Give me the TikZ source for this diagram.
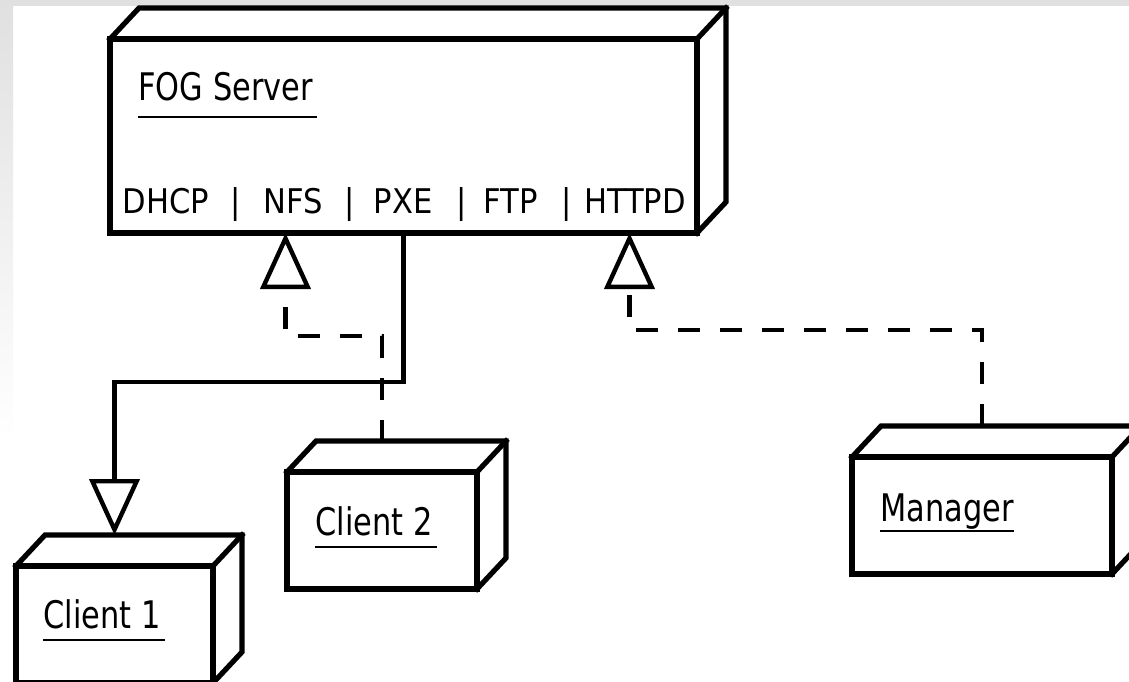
\documentclass[tikz,border=0pt]{standalone}
\usepackage{fontspec}
\setmainfont{DejaVu Sans}
\usepackage{graphicx}
\usetikzlibrary{arrows.meta}

\tikzset{
    box/.style={draw, line width=2.6pt, outer sep=0pt, inner sep=0pt, fill=white},
    boxline/.style={line width=2.6pt, line join=miter, line cap=rect},
    lbl/.style={inner sep=0pt, anchor=base west, font=\fontsize{19}{22}\selectfont},
    svc/.style={inner sep=0pt, anchor=base, font=\fontsize{17}{20}\selectfont},
    uline/.style={line width=1.2pt},
    link/.style={line width=2.2pt, -{Triangle[open, length=28pt, width=25pt, line width=2.2pt]}},
    usage/.style={link, dash pattern=on 11pt off 10pt},
}
\newcommand{\narrow}[2][0.8]{\scalebox{#1}[1]{#2}}
\newcommand{\boxdepth}[1]{%
    \draw[boxline] (#1.north west) -- ++(29,-31) -- ([shift={(29,-31)}]#1.north east)
        -- ([shift={(29,-31)}]#1.south east) -- (#1.south east);
    \draw[boxline] (#1.north east) -- ++(29,-31);
}

\begin{document}
\begin{tikzpicture}[x=0.5pt, y=-0.5pt]
    % Page and its grey border
    \useasboundingbox (0,0) rectangle (1129,681);
    \fill[white] (0,0) rectangle (1129,681);
    \fill[black!12] (0,0) rectangle (1129,6);
    \shade[top color=black!12, bottom color=white] (0,6) rectangle (13,440);

    % Server with its services
    \node[box, minimum width=293.5pt, minimum height=97pt] (srv) at (403.5,136) {};
    \boxdepth{srv}
    \node[lbl] (srvname) at (138,100) {\narrow{FOG Server}};
    \draw[uline] ([yshift=-8.5pt]srvname.base west) -- ([yshift=-8.5pt, xshift=2pt]srvname.base east);
    \foreach \x/\txt/\n in {166/DHCP/dhcp, 236/|/bar1, 293/NFS/nfs, 350/|/bar2, 403/PXE/pxe,
                            462/|/bar3, 511/FTP/ftp, 567/|/bar4, 635/HTTPD/httpd} {
        \node[svc] (\n) at (\x,213) {\narrow[0.9]{\txt}};
    }

    % Clients and manager
    \node[box, minimum width=98.5pt, minimum height=58.5pt] (client1) at (114.5,624.5) {};
    \boxdepth{client1}
    \node[lbl] (client1name) at (43,628) {\narrow{Client 1}};
    \draw[uline] ([yshift=-6pt]client1name.base west) -- ([yshift=-6pt, xshift=2pt]client1name.base east);

    \node[box, minimum width=95pt, minimum height=58.5pt] (client2) at (382,530.5) {};
    \boxdepth{client2}
    \node[lbl] (client2name) at (315,535) {\narrow{Client 2}};
    \draw[uline] ([yshift=-6pt]client2name.base west) -- ([yshift=-6pt, xshift=2pt]client2name.base east);

    \node[box, minimum width=130pt, minimum height=58.5pt] (manager) at (982,515.5) {};
    \boxdepth{manager}
    \node[lbl] (managername) at (880,521) {\narrow{Manager}};
    \draw[uline] ([yshift=-5pt]managername.base west) -- ([yshift=-5pt]managername.base east);

    % Connectors
    \draw[link] (srv.south) -- ++(0,149) -| ([yshift=15.5pt]client1.north);
    \draw[usage] ([yshift=15pt]client2.north) -- ++(0,-106) -| ([xshift=-59pt]srv.south);
    \draw[usage] ([yshift=15.5pt]manager.north) -- ++(0,-96) -| ([xshift=113pt]srv.south);
\end{tikzpicture}
\end{document}
